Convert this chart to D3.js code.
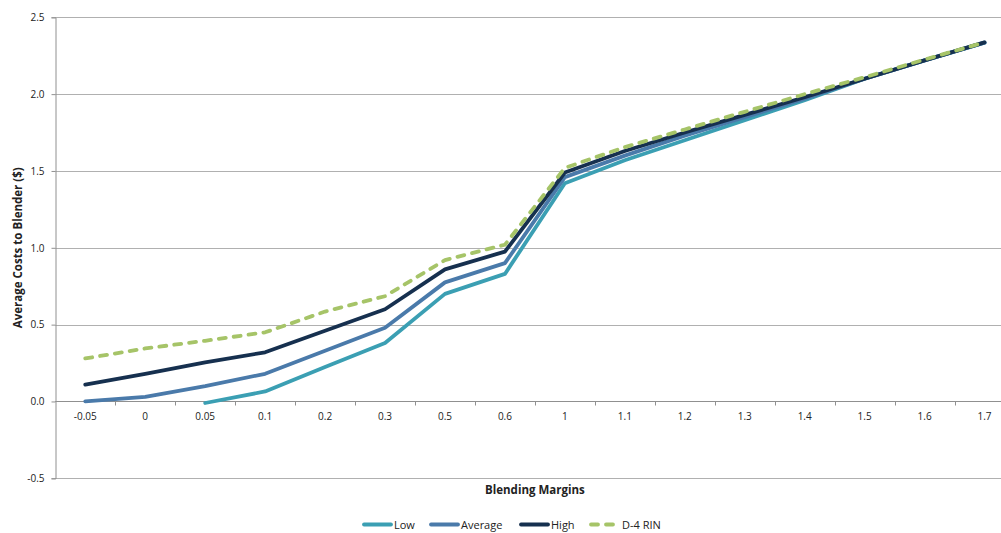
<!DOCTYPE html>
<html>
<head>
<meta charset="utf-8">
<title>Average Costs to Blender</title>
<script src="https://d3js.org/d3.v7.min.js"></script>
<style>
  body { margin: 0; background: #fff; }
  text { font-family: "Open Sans", "Noto Sans", sans-serif; fill: #222; }
</style>
</head>
<body>
<svg id="chart" width="1001" height="533"></svg>
<script>
// blending margin categories
var margins = ["-0.05", "0", "0.05", "0.1", "0.2", "0.3", "0.5", "0.6", "1", "1.1", "1.2", "1.3", "1.4", "1.5", "1.6", "1.7"];

// series values (null = no point)
var low     = [null, null, -0.01, 0.065, 0.225, 0.38, 0.70, 0.83, 1.42, 1.57, 1.70, 1.83, 1.96, 2.10, 2.22, 2.335];
var average = [0.0, 0.03, 0.10, 0.18, 0.33, 0.48, 0.775, 0.90, 1.46, 1.60, 1.73, 1.85, 1.97, 2.10, 2.22, 2.335];
var high    = [0.11, 0.18, 0.255, 0.32, 0.46, 0.60, 0.86, 0.975, 1.49, 1.63, 1.75, 1.865, 1.98, 2.10, 2.22, 2.337];
var d4rin   = [0.28, 0.345, 0.395, 0.45, 0.585, 0.685, 0.92, 1.02, 1.52, 1.655, 1.77, 1.885, 2.0, 2.11, 2.225, 2.337];

var yTicks = [-0.5, 0, 0.5, 1.0, 1.5, 2.0, 2.5];
var yTickLabels = ["-0.5", "0.0", "0.5", "1.0", "1.5", "2.0", "2.5"];

var series = [
  { name: "Low",     values: low,     color: "#3b9fb3", dash: null },
  { name: "Average", values: average, color: "#4a7aaa", dash: null },
  { name: "High",    values: high,    color: "#16304f", dash: null },
  { name: "D-4 RIN", values: d4rin,   color: "#a6c468", dash: "7,8" }
];

var svg = d3.select("#chart");
// plot box (right side runs past the window edge, as in the picture)
var plotL = 55.3, plotR = 1014.5, plotT = 17.3, plotB = 478.3;

var x = d3.scaleBand().domain(margins).range([plotL, plotR]);
var y = d3.scaleLinear().domain([-0.5, 2.5]).range([plotB, plotT]);

// horizontal gridlines
svg.append("g")
  .selectAll("line")
  .data(yTicks)
  .enter()
  .append("line")
  .attr("x1", plotL)
  .attr("x2", plotR)
  .attr("y1", d => Math.round(y(d)) + 0.5)
  .attr("y2", d => Math.round(y(d)) + 0.5)
  .attr("stroke", "#b0b0b0")
  .attr("stroke-width", 1);

// y axis
var yAxis = svg.append("g")
  .attr("transform", "translate(" + (Math.round(plotL) + 0.5) + ",0)")
  .call(d3.axisLeft(y).tickValues(yTicks)
    .tickFormat((d, i) => yTickLabels[i])
    .tickSize(4).tickPadding(7));
yAxis.select(".domain").attr("stroke", "#909090");
yAxis.selectAll(".tick line").attr("stroke", "#909090");
yAxis.selectAll(".tick text")
  .style("font-size", "10px")
  .style("font-family", "'Open Sans', sans-serif")
  .attr("fill", "#222");

// x axis along zero, ticks at band boundaries
var xAxis = svg.append("g")
  .attr("transform", "translate(0," + (Math.round(y(0)) + 0.5) + ")");
xAxis.append("line")
  .attr("x1", plotL).attr("x2", plotR)
  .attr("stroke", "#909090");
xAxis.selectAll(".xtick")
  .data(margins.slice(1))
  .enter()
  .append("line")
  .attr("class", "xtick")
  .attr("x1", d => Math.round(x(d)) + 0.5)
  .attr("x2", d => Math.round(x(d)) + 0.5)
  .attr("y1", 0)
  .attr("y2", 4)
  .attr("stroke", "#909090");
xAxis.selectAll(".xlabel")
  .data(margins)
  .enter()
  .append("text")
  .attr("class", "xlabel")
  .attr("x", d => x(d) + x.bandwidth() / 2)
  .attr("y", 18)
  .attr("text-anchor", "middle")
  .style("font-size", "10px")
  .text(d => d);

// lines
var line = d3.line()
  .defined(d => d.v !== null)
  .x(d => x(d.m) + x.bandwidth() / 2)
  .y(d => y(d.v));

series.forEach(function(s) {
  var pts = margins.map((m, i) => ({ m: m, v: s.values[i] }));
  svg.append("path")
    .datum(pts)
    .attr("d", line)
    .attr("fill", "none")
    .attr("stroke", s.color)
    .attr("stroke-width", 3.8)
    .attr("stroke-linejoin", "round")
    .attr("stroke-linecap", "round")
    .attr("stroke-dasharray", s.dash);
});

// axis titles
svg.append("text")
  .attr("x", (plotL + plotR) / 2)
  .attr("y", 494)
  .attr("text-anchor", "middle")
  .style("font-size", "11.5px")
  .style("font-weight", "bold")
  .text("Blending Margins");

svg.append("text")
  .attr("transform", "translate(22," + ((plotT + plotB) / 2) + ") rotate(-90)")
  .attr("text-anchor", "middle")
  .style("font-size", "11.5px")
  .style("font-weight", "bold")
  .text("Average Costs to Blender ($)");

// legend
var legendX = [362, 429, 519, 589];
var legend = svg.append("g");
series.forEach(function(s, i) {
  var g = legend.append("g").attr("transform", "translate(" + legendX[i] + ",524.5)");
  g.append("line")
    .attr("x1", 2).attr("x2", 29)
    .attr("stroke", s.color)
    .attr("stroke-width", 3.8)
    .attr("stroke-linecap", "round")
    .attr("stroke-dasharray", s.dash);
  g.append("text")
    .attr("x", s.dash ? 33 : 32)
    .attr("y", 4)
    .style("font-size", "11px")
    .text(s.name);
});
</script>
</body>
</html>
